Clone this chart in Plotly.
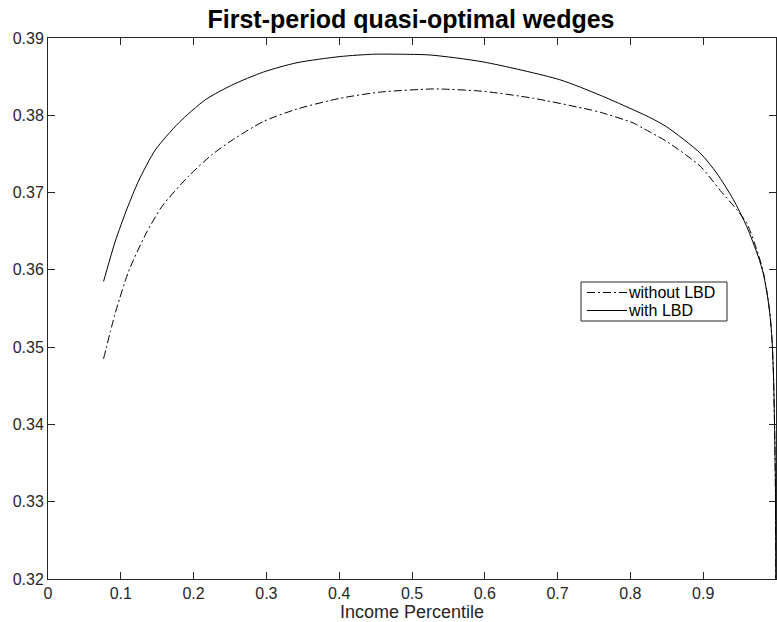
import plotly.graph_objects as go

# ---- data ----
x_with = [0.0763, 0.0924, 0.1085, 0.1244, 0.1473, 0.1794, 0.2160, 0.2526, 0.2960, 0.3419,
          0.4013, 0.4470, 0.4838, 0.5250, 0.5980, 0.7030, 0.7583, 0.8270, 0.8499, 0.8960,
          0.9186, 0.9414, 0.9598, 0.9757, 0.9826, 0.9880, 0.9917, 0.9945, 0.9965, 0.9980,
          0.9992, 1.0]
y_with = [0.3585, 0.3637, 0.3679, 0.3715, 0.3755, 0.3790, 0.3820, 0.3839, 0.3856, 0.3868,
          0.3876, 0.3879, 0.3879, 0.3878, 0.3869, 0.3846, 0.3826, 0.3797, 0.3785, 0.3751,
          0.3725, 0.3691, 0.3656, 0.3617, 0.3595, 0.3568, 0.3542, 0.3510, 0.3465, 0.3400,
          0.3320, 0.3100]

x_without = [0.0763, 0.0924, 0.1107, 0.1336, 0.1565, 0.1930, 0.2252, 0.2549, 0.2960, 0.3419,
             0.4013, 0.4563, 0.5250, 0.5387, 0.5980, 0.6668, 0.7355, 0.7583, 0.8040, 0.8178,
             0.8500, 0.8960, 0.9232, 0.9460, 0.9600, 0.9757, 0.9826, 0.9880, 0.9917, 0.9945,
             0.9965, 0.9980, 0.9992, 1.0]
y_without = [0.3485, 0.3544, 0.3598, 0.3645, 0.3682, 0.3721, 0.3749, 0.3769, 0.3792, 0.3808,
             0.3822, 0.3830, 0.3834, 0.3834, 0.3831, 0.3822, 0.3809, 0.3804, 0.3790, 0.3783,
             0.3766, 0.3734, 0.3703, 0.3678, 0.3660, 0.3620, 0.3597, 0.3569, 0.3543, 0.3510,
             0.3465, 0.3400, 0.3320, 0.3100]

x_ticks = [0, 0.1, 0.2, 0.3, 0.4, 0.5, 0.6, 0.7, 0.8, 0.9, 1]
x_tick_labels = ["0", "0.1", "0.2", "0.3", "0.4", "0.5", "0.6", "0.7", "0.8", "0.9", "1"]
y_ticks = [0.32, 0.33, 0.34, 0.35, 0.36, 0.37, 0.38, 0.39]
y_tick_labels = ["0.32", "0.33", "0.34", "0.35", "0.36", "0.37", "0.38", "0.39"]

series_names = ["without LBD", "with LBD"]
title_text = "First-period quasi-optimal wedges"
x_title = "Income Percentile"

# ---- layout geometry ----
W, H = 777, 622
L, R, T, B = 48, 1, 38, 43
PW, PH = W - L - R, H - T - B
FONT = "Liberation Sans, Arial, Helvetica, sans-serif"
INK = "#262626"


def px_x(p):
    return (p - L) / PW


def px_y(p):
    return 1 - (p - T) / PH


DASHDOT = "8px,3px,2px,3px"

fig = go.Figure()
fig.add_trace(go.Scatter(x=x_without, y=y_without, mode="lines", name=series_names[0],
                         line=dict(color="black", width=1, dash=DASHDOT, shape="spline", smoothing=0.7),
                         showlegend=False))
fig.add_trace(go.Scatter(x=x_with, y=y_with, mode="lines", name=series_names[1],
                         line=dict(color="black", width=1, shape="spline", smoothing=0.7),
                         showlegend=False))

axis_common = dict(showline=True, linecolor=INK, linewidth=1, mirror="ticks",
                   ticks="inside", ticklen=7, tickcolor=INK, tickwidth=1,
                   showgrid=False, zeroline=False, automargin=False,
                   tickfont=dict(family=FONT, size=16, color=INK))

fig.update_xaxes(range=[0, 1], tickvals=x_ticks, ticktext=x_tick_labels,
                 title=dict(text=x_title, font=dict(family=FONT, size=18, color=INK), standoff=0),
                 **axis_common)
fig.update_yaxes(range=[0.32, 0.39], tickvals=y_ticks, ticktext=y_tick_labels,
                 **axis_common)

# manual legend (box, line samples, labels)
LEG_FS = 16
row1, row2 = 292.5, 310.5
shapes = [
    dict(type="rect", xref="paper", yref="paper", x0=px_x(581), x1=px_x(727),
         y0=px_y(321), y1=px_y(282), line=dict(color=INK, width=1), fillcolor="white", layer="above"),
    dict(type="line", xref="paper", yref="paper", x0=px_x(587), x1=px_x(627),
         y0=px_y(row1), y1=px_y(row1), line=dict(color="black", width=1, dash=DASHDOT), layer="above"),
    dict(type="line", xref="paper", yref="paper", x0=px_x(587), x1=px_x(627),
         y0=px_y(row2), y1=px_y(row2), line=dict(color="black", width=1), layer="above"),
]
annotations = [
    dict(xref="paper", yref="paper", x=px_x(627), y=px_y(row1), text=series_names[0],
         showarrow=False, xanchor="left", yanchor="middle", borderpad=0,
         font=dict(family=FONT, size=LEG_FS, color="black")),
    dict(xref="paper", yref="paper", x=px_x(627), y=px_y(row2), text=series_names[1],
         showarrow=False, xanchor="left", yanchor="middle", borderpad=0,
         font=dict(family=FONT, size=LEG_FS, color="black")),
]

fig.update_layout(
    template="none",
    width=W, height=H,
    margin=dict(l=L, r=R, t=T, b=B, pad=0),
    paper_bgcolor="white", plot_bgcolor="white",
    title=dict(text="<b>" + title_text + "</b>", xref="container", x=411 / W, xanchor="center",
               y=1 - 19 / H, yanchor="middle", yref="container",
               font=dict(family=FONT, size=25, color="black")),
    shapes=shapes, annotations=annotations,
    showlegend=False,
)

fig.write_html("out.html")
